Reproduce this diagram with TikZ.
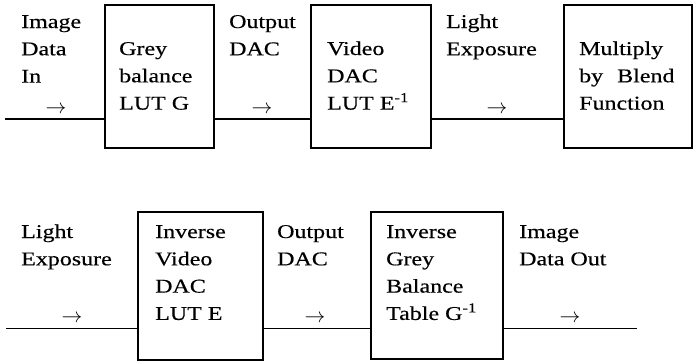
\documentclass[tikz,border=0pt]{standalone}
\usepackage{fontspec}
\setmainfont{Liberation Serif}[FakeStretch=1.23,FakeBold=0.4]
\begin{document}
\begin{tikzpicture}[x=1pt,y=-1pt,
  box/.style={draw,line width=1.6pt,rectangle,inner sep=0pt},
  wire/.style={line width=1.9pt},
  lbl/.style={anchor=base west,inner sep=0pt,font=\fontsize{19.5}{27.3}\selectfont},
  arr/.style={anchor=base,inner sep=0pt,font=\fontsize{19.5}{27.3}\selectfont}]
\useasboundingbox (0,0) rectangle (694,362);
% top row boxes
\node[box,minimum width=109pt,minimum height=143pt] (b1) at (159.5,76.5) {};
\node[box,minimum width=120pt,minimum height=143pt] (b2) at (371,76.5) {};
\node[box,minimum width=128pt,minimum height=143pt] (b3) at (628,76.5) {};
% bottom row boxes
\node[box,minimum width=125pt,minimum height=148pt] (b4) at (200.5,286) {};
\node[box,minimum width=132pt,minimum height=147pt] (b5) at (437,285.5) {};
% connectors
\coordinate (in1) at (5,119);
\coordinate (in2) at (6,328.5);
\coordinate (out2) at (637,328.5);
\draw[wire] (in1) -- (in1 -| b1.west);
\draw[wire] (b1.east |- in1) -- (b2.west |- in1);
\draw[wire] (b2.east |- in1) -- (b3.west |- in1);
\draw[wire] (in2) -- (in2 -| b4.west);
\draw[wire] (b4.east |- in2) -- (b5.west |- in2);
\draw[wire] (b5.east |- in2) -- (out2);
% top texts
\node[lbl] (t1) at (21,28) {\begin{tabular}[t]{@{}l@{}}Image\\Data\\In\end{tabular}};
\node[lbl] (t2) at (119,55) {\begin{tabular}[t]{@{}l@{}}Grey\\balance\\LUT G\end{tabular}};
\node[lbl] (t3) at (229,28) {\begin{tabular}[t]{@{}l@{}}Output\\DAC\end{tabular}};
\node[lbl] (t4) at (327,55) {\begin{tabular}[t]{@{}l@{}}Video\\DAC\\LUT E\textsuperscript{-1}\end{tabular}};
\node[lbl] (t5) at (446,28) {\begin{tabular}[t]{@{}l@{}}Light\\Exposure\end{tabular}};
\node[lbl] (t6) at (579,55) {\begin{tabular}[t]{@{}l@{}}Multiply\\by\hspace{14pt}Blend\\Function\end{tabular}};
\node[arr] (a1) at (56,113) {$\rightarrow$};
\node[arr] (a2) at (262,113) {$\rightarrow$};
\node[arr] (a3) at (497,113) {$\rightarrow$};
% bottom texts
\node[lbl] (u1) at (21,238) {\begin{tabular}[t]{@{}l@{}}Light\\Exposure\end{tabular}};
\node[lbl] (u2) at (155,238) {\begin{tabular}[t]{@{}l@{}}Inverse\\Video\\DAC\\LUT E\end{tabular}};
\node[lbl] (u3) at (277,238) {\begin{tabular}[t]{@{}l@{}}Output\\DAC\end{tabular}};
\node[lbl] (u4) at (386,238) {\begin{tabular}[t]{@{}l@{}}Inverse\\Grey\\Balance\\Table G\textsuperscript{-1}\end{tabular}};
\node[lbl] (u5) at (519,238) {\begin{tabular}[t]{@{}l@{}}Image\\Data Out\end{tabular}};
\node[arr] (c1) at (72,322) {$\rightarrow$};
\node[arr] (c2) at (315,322) {$\rightarrow$};
\node[arr] (c3) at (570,322) {$\rightarrow$};
\end{tikzpicture}
\end{document}
